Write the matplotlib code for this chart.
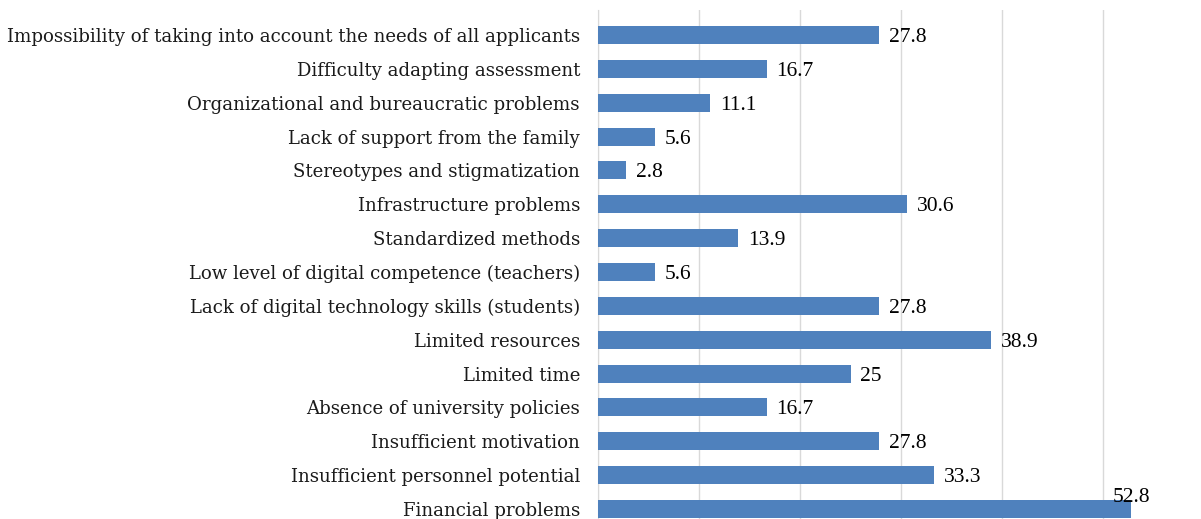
"""Horizontal bar chart of barriers (percent of respondents)."""

from matplotlib import pyplot as plt

# Categories from bottom to top, as drawn.
categories = [
    "Financial problems",
    "Insufficient personnel potential",
    "Insufficient motivation",
    "Absence of university policies",
    "Limited time",
    "Limited resources",
    "Lack of digital technology skills (students)",
    "Low level of digital competence (teachers)",
    "Standardized methods",
    "Infrastructure problems",
    "Stereotypes and stigmatization",
    "Lack of support from the family",
    "Organizational and bureaucratic problems",
    "Difficulty adapting assessment",
    "Impossibility of taking into account the needs of all applicants",
]
values = [52.8, 33.3, 27.8, 16.7, 25, 38.9, 27.8, 5.6, 13.9, 30.6, 2.8, 5.6, 11.1, 16.7, 27.8]
valueLabels = ["52.8", "33.3", "27.8", "16.7", "25", "38.9", "27.8", "5.6", "13.9", "30.6",
               "2.8", "5.6", "11.1", "16.7", "27.8"]
gridTicks = [0, 10, 20, 30, 40, 50]

W, H = 1201, 519
fig = plt.figure(figsize=(W / 100, H / 100), dpi=100)
ax = fig.add_axes([598 / W, 0, (W - 598) / W, (H - 10) / H])

positions = list(range(len(categories)))
ax.barh(positions, values, height=0.53, color="#4F81BD", zorder=3)

ax.set_xlim(0, (W - 598) / 10.1)
ax.set_ylim(-0.295, 14.74)
ax.set_xticks(gridTicks)
ax.set_xticklabels([])
ax.tick_params(axis="x", length=0)
ax.grid(axis="x", color="#D9D9D9", linewidth=1, zorder=0)
ax.set_yticks(positions)
ax.set_yticklabels(categories, fontsize=13.05, family="DejaVu Serif", color="#1a1a1a")
ax.tick_params(axis="y", length=0, pad=13)
for side in ["top", "right", "bottom"]:
    ax.spines[side].set_visible(False)
ax.spines["left"].set_color("#D9D9D9")

# Value labels; the largest one sits above the bar end as in the source.
for pos, val, lab in zip(positions, values, valueLabels):
    if val == max(values):
        ax.annotate(lab, (val, pos), xytext=(0, 10), textcoords="offset points",
                    ha="center", va="center_baseline", fontsize=15.5, family="Liberation Serif")
    else:
        ax.annotate(lab, (val, pos), xytext=(7, 0), textcoords="offset points",
                    ha="left", va="center_baseline", fontsize=15.5, family="Liberation Serif")

fig.savefig("out.png", dpi=100)
